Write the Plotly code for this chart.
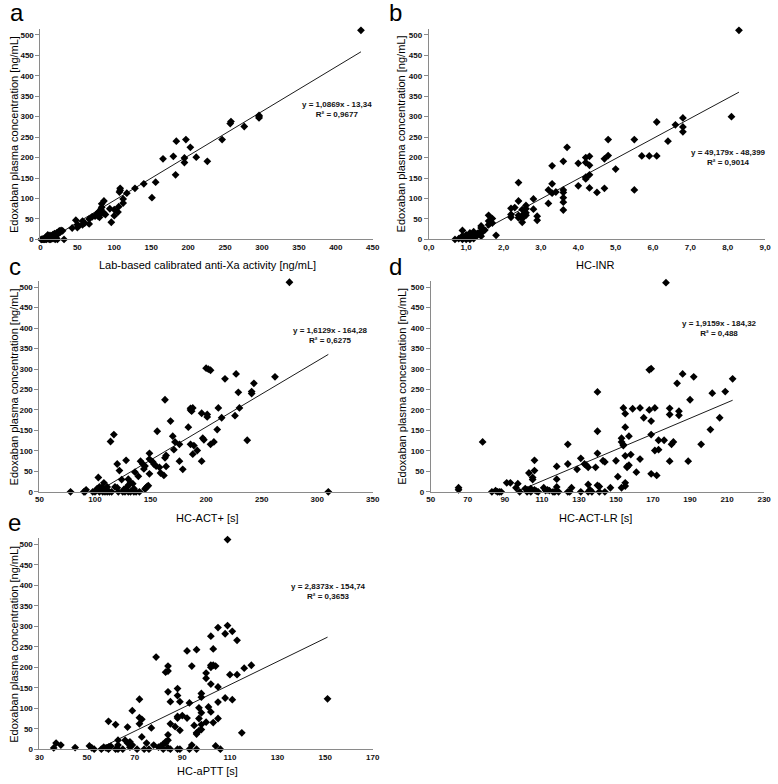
import plotly.graph_objects as go

W, H = 778, 784

# ---------------- data ----------------
a_x = [434, 296, 296, 296, 276, 257, 258, 246, 226, 211, 203, 197, 195, 195, 184, 180, 183, 166, 156, 151,
       140, 128, 117, 112, 112, 108, 108, 107, 106, 105, 100, 100, 94, 96, 86, 86, 83, 82, 82, 80,
       78, 83, 74, 66, 66, 57, 57, 50, 48, 50, 43, 32, 76, 79, 88, 52, 60, 70,
       1, 2, 3, 4, 5, 6, 7, 8, 9, 10, 11, 12, 13, 14, 15, 16, 17, 18, 19, 20,
       21, 22, 23, 24, 25, 26, 27, 30, 20, 12, 6, 10, 14, 8, 28, 17]
a_y = [511, 297, 300, 303, 276, 283, 288, 244, 191, 201, 225, 244, 199, 188, 240, 203, 158, 197, 140, 102,
       136, 125, 113, 99, 89, 125, 120, 116, 80, 67, 58, 73, 75, 42, 94, 64, 79, 74, 63, 54,
       57, 87, 57, 50, 38, 45, 36, 29, 47, 36, 28, 0, 62, 68, 61, 33, 40, 55,
       0, 0, 1, 0, 2, 1, 3, 0, 5, 2, 8, 4, 10, 6, 3, 10, 12, 8, 14, 9,
       5, 16, 0, 14, 20, 21, 18, 21, 0, 0, 0, 11, 0, 7, 22, 2]

b_x = [8.3, 8.1, 6.8, 6.8, 6.8, 6.6, 6.4, 6.1, 6.1, 5.9, 5.7, 5.5, 5.5, 5.0, 4.8, 4.8, 4.7, 4.7, 4.5,
       4.2, 4.2, 4.2, 4.2, 4.3, 4.3, 4.3, 4.3, 4.0, 4.0, 3.7, 3.6, 3.6, 3.6, 3.6, 3.6, 3.6,
       3.4, 3.3, 3.3, 3.3, 3.2, 3.2, 2.8, 2.8, 2.9, 2.9, 2.6, 2.6, 2.6, 2.6, 2.5, 2.5, 2.5, 2.5,
       2.4, 2.4, 2.4, 2.4, 2.3, 2.2, 2.2, 2.2, 1.8, 1.7, 1.7, 1.6, 1.6, 1.6, 1.5,
       1.4, 1.4, 1.4, 1.4, 1.4, 1.3, 1.3, 1.2, 1.2, 1.2, 1.1, 1.1, 1.1, 1.0, 1.0, 1.0,
       0.9, 0.9, 0.9, 0.8, 0.7, 1.1, 1.2, 1.0, 0.9]
b_y = [511, 300, 297, 275, 263, 280, 240, 287, 204, 204, 204, 244, 121, 172, 244, 205, 197, 125, 115,
       200, 188, 152, 148, 203, 181, 158, 126, 186, 131, 225, 191, 121, 115, 102, 91, 72,
       116, 180, 136, 113, 121, 88, 99, 74, 57, 47, 75, 83, 65, 59, 73, 59, 42, 51,
       139, 94, 59, 53, 78, 76, 61, 54, 10, 51, 40, 59, 45, 36, 23,
       33, 28, 21, 15, 8, 15, 10, 19, 9, 2, 12, 6, 0, 7, 0, 3,
       22, 9, 0, 2, 0, 16, 13, 11, 4]

c_x = [275, 310, 262, 243, 241, 241, 237, 229, 227, 230, 226, 217, 214, 211, 210, 207, 204, 201, 201, 200,
       202, 204, 198, 197, 196, 196, 192, 188, 188, 186, 186, 187, 184, 186, 189, 179, 176, 176, 172, 171,
       170, 168, 164, 163, 164, 162, 163, 159, 158, 156, 155, 153, 152, 149, 149, 149, 148, 147, 146, 145,
       144, 145, 143, 141, 139, 136, 135, 137, 134, 132, 130, 130, 129, 128, 127, 126, 124, 122, 120, 120,
       118, 117, 114, 111, 110, 109, 108, 107, 106, 105, 104, 103, 102, 101, 100, 98, 92, 91, 90, 78,
       111, 113, 115, 125, 132, 130, 121, 135, 140, 107, 104]
c_y = [512, 0, 281, 265, 245, 240, 126, 243, 288, 205, 186, 276, 181, 205, 152, 122, 116, 189, 183, 302,
       300, 297, 127, 131, 192, 75, 101, 92, 205, 200, 204, 197, 158, 116, 113, 55, 116, 75, 122, 103,
       136, 173, 89, 83, 62, 40, 225, 46, 60, 148, 63, 68, 73, 94, 80, 44, 15, 13, 10, 7,
       56, 63, 68, 75, 38, 48, 8, 0, 20, 22, 31, 16, 12, 77, 0, 6, 30, 52, 68, 10,
       12, 140, 123, 12, 5, 0, 22, 0, 10, 5, 0, 35, 8, 3, 0, 0, 5, 0, 0, 0,
       0, 0, 0, 0, 0, 0, 0, 0, 0, 8, 12]

d_x = [177, 213, 209, 206, 202, 201, 196, 192, 190, 189, 186, 184, 184, 183, 181, 180, 179, 179, 179, 176,
       173, 173, 172, 171, 171, 169, 168, 169, 168, 169, 169, 165, 163, 163, 161, 159, 158, 157, 157, 156,
       156, 155, 155, 155, 155, 155, 154, 153, 153, 154, 154, 153, 151, 150, 147, 144, 144, 143, 141, 141,
       140, 140, 140, 140, 139, 136, 135, 135, 135, 134, 133, 131, 131, 129, 126, 125, 124, 124, 124, 119,
       118, 118, 118, 116, 114, 113, 111, 108, 107, 106, 106, 106, 105, 105, 104, 104, 103, 102, 102, 101,
       98, 97, 96, 93, 91, 88, 87, 86, 85, 83, 78, 65, 65, 112, 117, 137]
d_y = [511, 276, 245, 181, 241, 152, 116, 281, 225, 75, 288, 197, 187, 265, 122, 116, 204, 189, 75, 126,
       126, 103, 40, 101, 205, 301, 298, 173, 200, 140, 44, 181, 205, 80, 48, 203, 91, 65, 136, 60,
       62, 158, 191, 22, 14, 88, 205, 131, 122, 115, 113, 10, 37, 76, 10, 0, 73, 76, 0, 13,
       16, 94, 148, 244, 60, 5, 18, 0, 60, 65, 68, 0, 82, 55, 10, 0, 68, 116, 0, 0,
       62, 31, 12, 0, 3, 5, 10, 0, 2, 5, 77, 52, 35, 30, 0, 8, 46, 0, 5, 8,
       0, 20, 10, 22, 22, 0, 0, 0, 3, 0, 122, 5, 10, 3, 0, 0]

e_x = [109, 151, 115, 119, 116, 113, 110, 111, 111, 108, 108, 109, 105, 113, 103, 102, 102, 103, 104, 102,
       102, 105, 105, 105, 100, 100, 103, 102, 101, 100, 98, 98, 98, 98, 97, 97, 98, 97, 96, 96,
       96, 95, 94, 94, 93, 92, 92, 90, 89, 89, 88, 88, 88, 88, 87, 85, 85, 84, 84, 84,
       84, 83, 84, 83, 83, 82, 81, 84, 79, 77, 75, 74, 72, 72, 73, 72, 73, 69, 69, 68,
       67, 67, 66, 65, 63, 63, 63, 62, 59, 59, 59, 58, 57, 56, 53, 52, 51, 45, 39, 37,
       36, 71, 76, 78, 80, 82, 85, 88, 89, 93, 104, 106, 96, 62, 60, 68]
e_y = [512, 123, 40, 205, 198, 182, 182, 288, 121, 282, 125, 302, 297, 266, 245, 276, 205, 205, 203, 200,
       159, 152, 115, 75, 186, 173, 65, 91, 103, 66, 136, 127, 89, 60, 101, 75, 48, 45, 40, 37,
       243, 58, 10, 203, 113, 240, 76, 82, 116, 46, 148, 131, 80, 76, 55, 116, 62, 203, 191, 140,
       35, 188, 22, 18, 15, 12, 8, 3, 225, 52, 15, 0, 122, 77, 73, 62, 30, 94, 10, 18,
       15, 54, 22, 0, 22, 10, 0, 60, 68, 5, 0, 3, 5, 0, 0, 3, 8, 4, 10, 15,
       3, 0, 0, 10, 5, 0, 0, 0, 0, 0, 8, 0, 0, 0, 7, 5]

slopes = [1.0869, 49.179, 1.6129, 1.9159, 2.8373]
intercepts = [-13.34, -48.399, -164.28, -184.32, -154.74]
eq_texts = ["y = 1,0869x - 13,34<br>R² = 0,9677",
            "y = 49,179x - 48,399<br>R² = 0,9014",
            "y = 1,6129x - 164,28<br>R² = 0,6275",
            "y = 1,9159x - 184,32<br>R² = 0,488",
            "y = 2,8373x - 154,74<br>R² = 0,3653"]
x_titles = ["Lab-based calibrated anti-Xa activity [ng/mL]", "HC-INR", "HC-ACT+ [s]",
            "HC-ACT-LR [s]", "HC-aPTT [s]"]
panel_letters = ["a", "b", "c", "d", "e"]
x_ranges = [[0, 450], [0, 9], [50, 350], [50, 230], [30, 170]]
x_dticks = [50, 1, 50, 20, 20]
y_title = "Edoxaban plasma concentration [ng/mL]"
y_ticks = [0, 50, 100, 150, 200, 250, 300, 350, 400, 450, 500]

xs = [a_x, b_x, c_x, d_x, e_x]
ys = [a_y, b_y, c_y, d_y, e_y]

# ---------------- layout geometry (pixels of the 778x784 picture) ----------------
x_px = [(35, 373), (430, 772), (34, 373), (432, 771), (34, 373)]
y0_px = [241, 241, 495, 495, 754]      # pixel row of y = 0
px_per_unit = 206 / 500.0
ymax = 515
letter_pos = [(11, 13), (396, 13), (9, 268), (396, 268), (9, 526)]
xtitle_pos = [(205, 267), (600, 267), (205, 521), (600, 521), (205, 776)]
ytitle_x = [8, 402, 8, 402, 8]
eq_pos = [(337, 110), (735, 159), (330, 338), (726, 331), (328, 595)]

FONT = "Liberation Sans, Arial, sans-serif"
AX = "#8a8a8a"

fig = go.Figure()
layout = dict(autosize=True, margin=dict(l=0, r=0, t=0, b=0),
              paper_bgcolor="white", plot_bgcolor="white",
              separators=", ", showlegend=False, annotations=[])


def pann(text, px, py, size, angle=0, weight="normal", color="black"):
    return dict(text=text, x=px / W, y=1 - py / H, xref="paper", yref="paper",
                xanchor="center", yanchor="middle", showarrow=False, textangle=angle,
                align="center", font=dict(family=FONT, size=size, color=color, weight=weight))


for i in range(5):
    n = "" if i == 0 else str(i + 1)
    fig.add_trace(go.Scatter(x=xs[i], y=ys[i], mode="markers",
                             marker=dict(symbol="diamond", size=6, color="black"),
                             xaxis="x" + n, yaxis="y" + n, cliponaxis=False,
                             hoverinfo="x+y"))
    m, b = slopes[i], intercepts[i]
    x0 = max(-b / m, min(xs[i]))
    x1 = max(xs[i])
    fig.add_trace(go.Scatter(x=[x0, x1], y=[m * x0 + b, m * x1 + b], mode="lines",
                             line=dict(color="black", width=0.9),
                             xaxis="x" + n, yaxis="y" + n, hoverinfo="skip"))
    yb = y0_px[i]
    yt = yb - ymax * px_per_unit
    layout["xaxis" + n] = dict(domain=[x_px[i][0] / W, x_px[i][1] / W], range=x_ranges[i],
                               anchor="y" + n, showline=True, linecolor=AX, linewidth=1,
                               showgrid=False, zeroline=False, ticks="",
                               dtick=x_dticks[i], tick0=x_ranges[i][0],
                               tickformat=".1f" if i == 1 else "d",
                               tickfont=dict(family=FONT, size=8, color="#111", weight="bold"))
    layout["yaxis" + n] = dict(domain=[1 - yb / H, 1 - yt / H], range=[0, ymax],
                               anchor="x" + n, showline=True, linecolor=AX, linewidth=1,
                               showgrid=False, zeroline=False, ticks="outside", ticklen=4,
                               tickcolor=AX, tickvals=y_ticks,
                               tickfont=dict(family=FONT, size=8, color="#111", weight="bold"))
    ann = layout["annotations"]
    ann.append(pann(panel_letters[i], letter_pos[i][0], letter_pos[i][1], 24))
    ann.append(pann(x_titles[i], xtitle_pos[i][0], xtitle_pos[i][1], 11))
    ann.append(pann(y_title, ytitle_x[i], yb - 106, 11, angle=-90))
    ann.append(pann(eq_texts[i], eq_pos[i][0], eq_pos[i][1], 8, weight="bold", color="#111"))

fig.update_layout(**layout)
fig.write_html("out.html", config={"displayModeBar": False, "responsive": True},
               default_width="100vw", default_height="100vh",
               post_script=("document.body.style.margin='0px';"
                            "document.body.style.overflow='hidden';"
                            "var gd=document.getElementById('{plot_id}');"
                            "gd.style.width='100vw';gd.style.height='100vh';"
                            "Plotly.Plots.resize(gd);"))
